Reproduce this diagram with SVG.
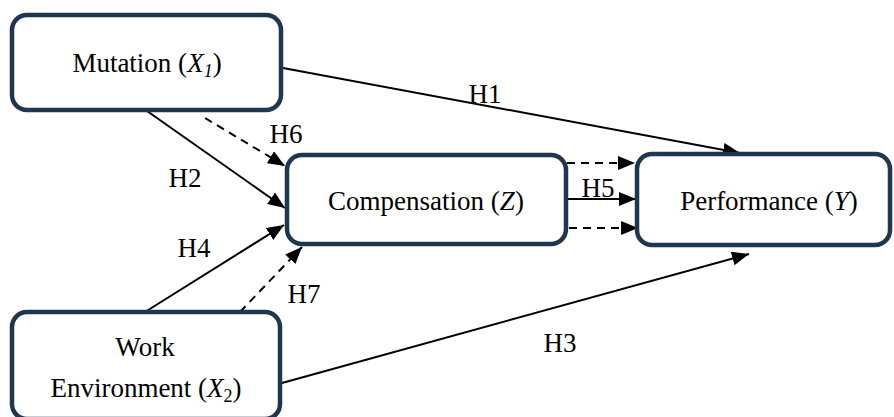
<svg xmlns="http://www.w3.org/2000/svg" width="894" height="417" viewBox="0 0 894 417">
<style>
.box{fill:#fff;stroke:#1f3651;stroke-width:4.5}
.c{fill:none;stroke:#000;stroke-width:2}
.d{stroke-dasharray:8 6}
.t{font-family:'Liberation Serif',serif;font-size:27px;fill:#000;text-anchor:middle}
</style>
<defs>
<marker id="ah" markerUnits="userSpaceOnUse" markerWidth="18" markerHeight="14" refX="17" refY="7" orient="auto">
<path d="M0,0 L17,7 L0,14 z" fill="#000"/>
</marker>
</defs>
<g id="connectors">
<line class="c" x1="283" y1="68" x2="740" y2="153" marker-end="url(#ah)"/>
<line class="c d" x1="205" y1="118" x2="285" y2="166" marker-end="url(#ah)"/>
<line class="c" x1="147" y1="111" x2="285" y2="208" marker-end="url(#ah)"/>
<line class="c" x1="145" y1="312" x2="284" y2="225" marker-end="url(#ah)"/>
<line class="c d" x1="240" y1="312" x2="302" y2="247" marker-end="url(#ah)"/>
<line class="c d" x1="567" y1="163" x2="635" y2="163" marker-end="url(#ah)"/>
<line class="c" x1="567" y1="199" x2="636" y2="199" marker-end="url(#ah)"/>
<line class="c d" x1="569" y1="228" x2="638" y2="228" marker-end="url(#ah)"/>
<line class="c" x1="282" y1="383" x2="749" y2="254" marker-end="url(#ah)"/>
<text class="t" x="485" y="103">H1</text>
<text class="t" x="286" y="143">H6</text>
<text class="t" x="185" y="187">H2</text>
<text class="t" x="194" y="257">H4</text>
<text class="t" x="304" y="303">H7</text>
<text class="t" x="598" y="197">H5</text>
<text class="t" x="560" y="352">H3</text>
</g>
<g id="mutation">
<rect class="box" x="12" y="15" width="269" height="95" rx="15"/>
<text class="t" x="147" y="72">Mutation (<tspan font-style="italic">X</tspan><tspan font-style="italic" font-size="18" dy="5">1</tspan><tspan dy="-5">)</tspan></text>
</g>
<g id="compensation">
<rect class="box" x="287" y="155" width="279" height="89" rx="15"/>
<text class="t" x="426" y="210">Compensation (<tspan font-style="italic">Z</tspan>)</text>
</g>
<g id="performance">
<rect class="box" x="637" y="154" width="253" height="91" rx="15"/>
<text class="t" x="769" y="210">Performance (<tspan font-style="italic">Y</tspan>)</text>
</g>
<g id="work-environment">
<rect class="box" x="12" y="312" width="268" height="107" rx="15"/>
<text class="t" x="145" y="356">Work</text>
<text class="t" x="146" y="397">Environment (<tspan font-style="italic">X</tspan><tspan font-size="18" dy="5">2</tspan><tspan dy="-5">)</tspan></text>
</g>
</svg>
